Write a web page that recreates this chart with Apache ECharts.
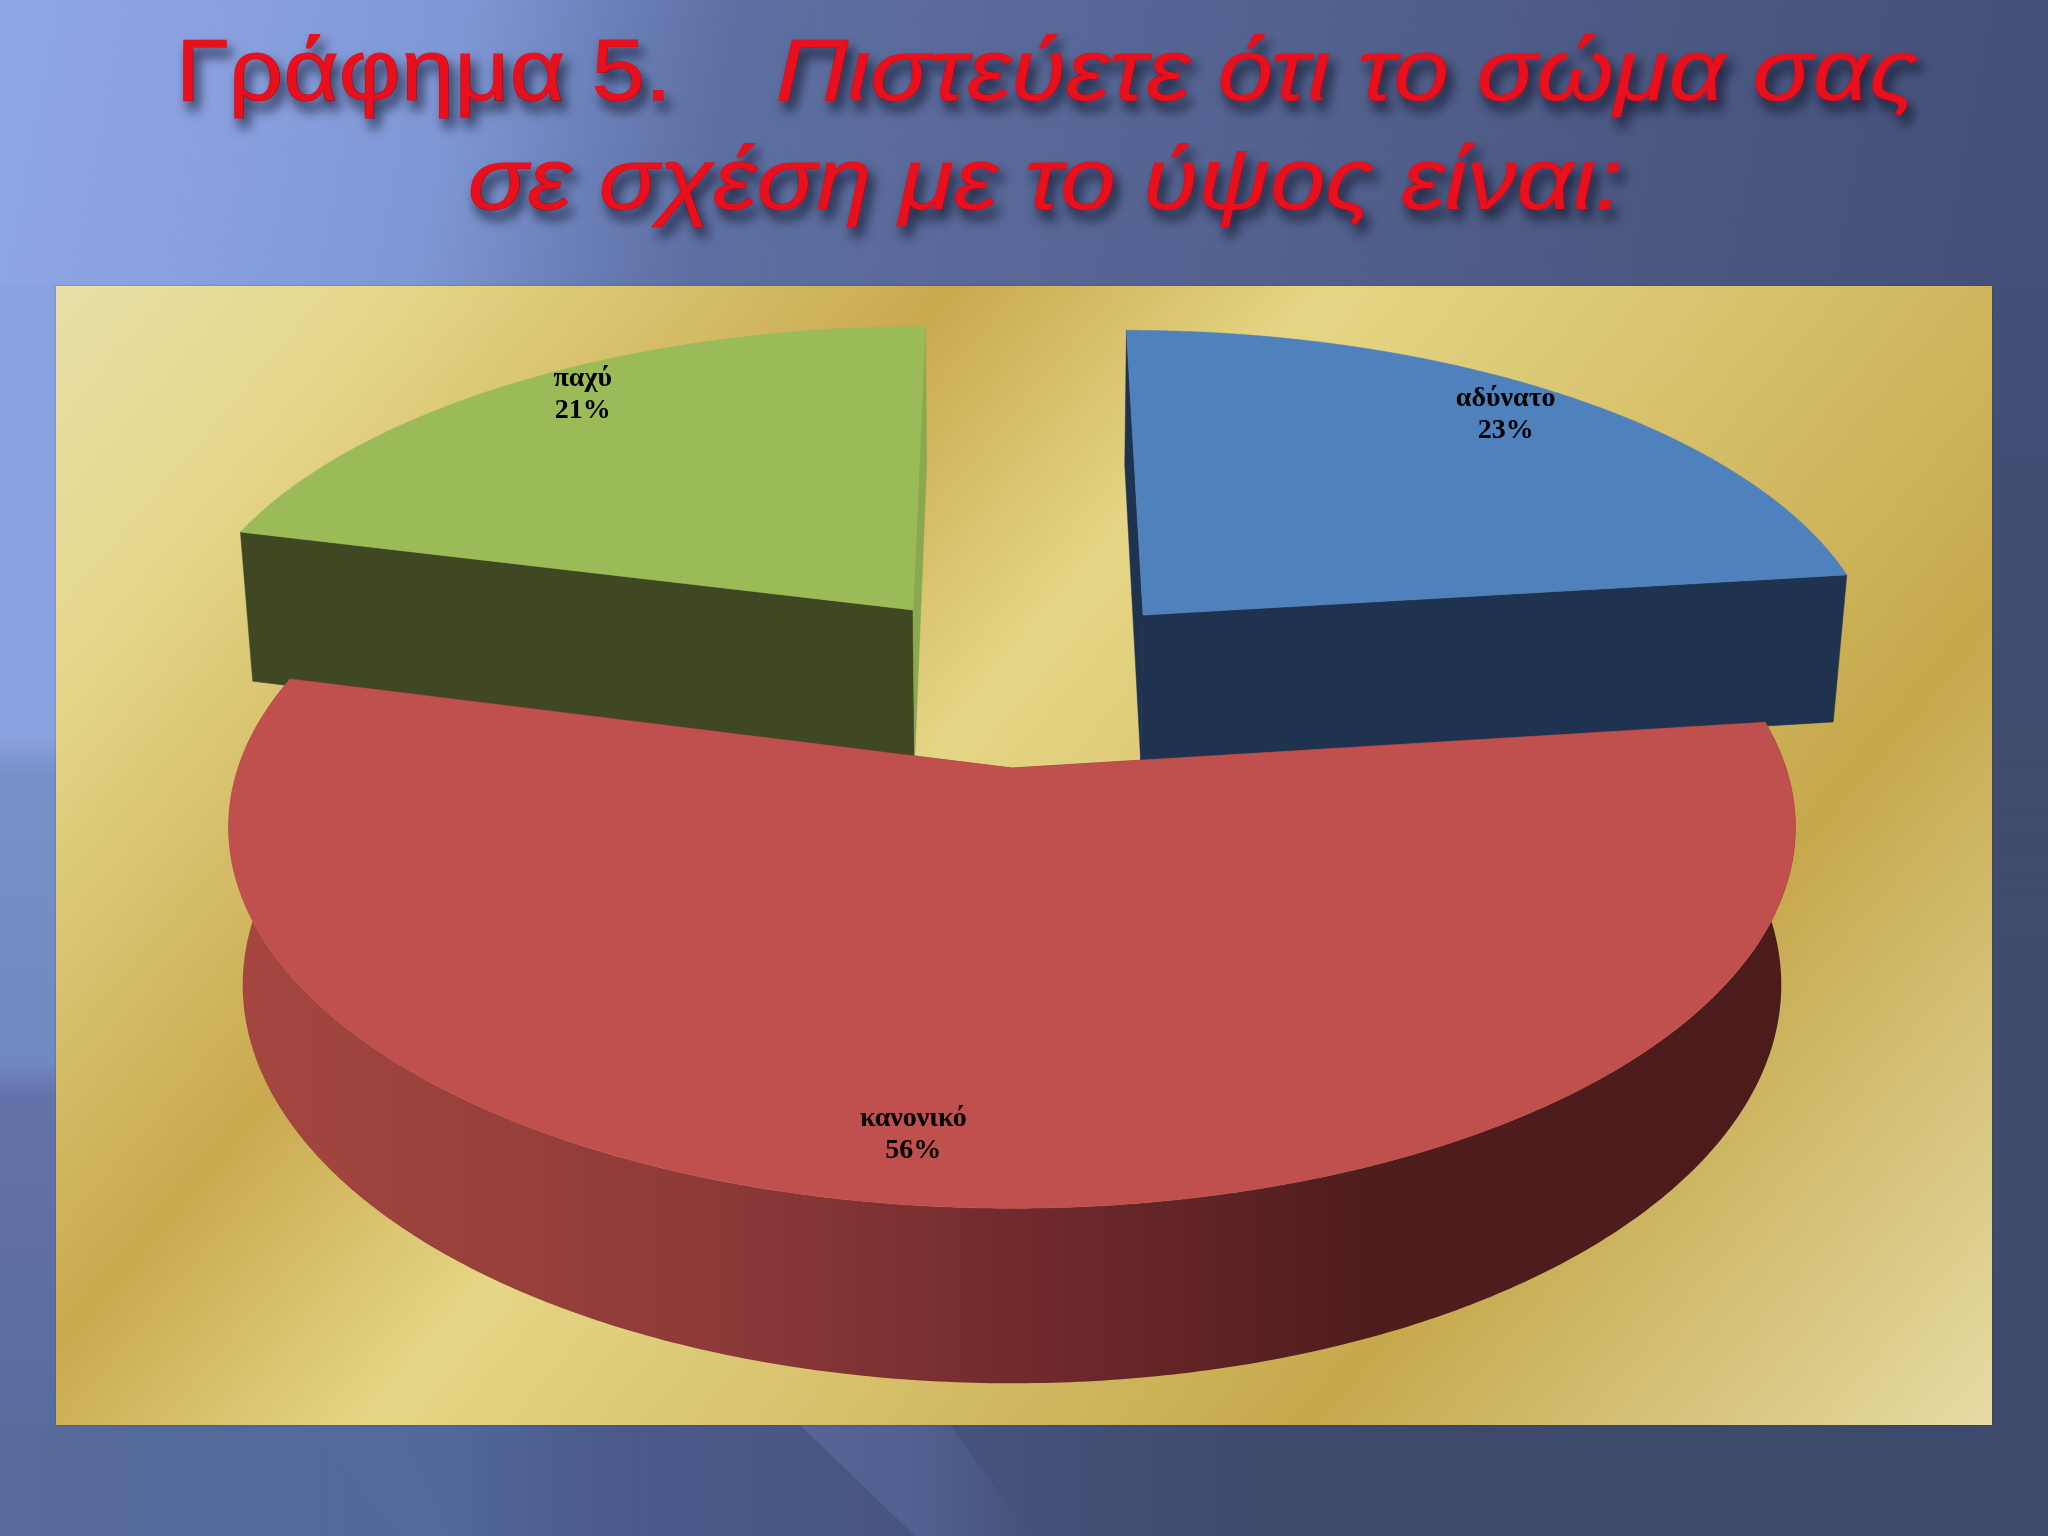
<!DOCTYPE html>
<html>
<head>
<meta charset="utf-8">
<style>html,body{margin:0;padding:0;background:#3e4a6c}#c{width:2048px;height:1536px}</style>
<script src="https://cdn.jsdelivr.net/npm/echarts@6/dist/echarts.min.js"></script>
</head>
<body>
<div id="c"></div>
<script>
// ---- data ----
var categories = ['αδύνατο', 'κανονικό', 'παχύ'];
var shares = [23, 56, 21];
var titleUpright = 'Γράφημα 5.';
var titleItalic1 = 'Πιστεύετε ότι το σώμα σας';
var titleItalic2 = 'σε σχέση με το ύψος είναι:';

// ---- look ----
var topColors = ['#4f81bd', '#c0504d', '#9bbb59'];
var startFaceColors = ['#1f3350', '#7a3030', '#3f4822'];
var endFaceColors = ['#1f3350', '#7a3030', '#8aa850'];
var paintOrder = [1, 3, 2];
var explodeX = [0.1808, 0, -0.137];
var explodeY = [0.439, 0, 0.4547];
var depthScale = [1.0, 1, 1.03];
var labelRadius = [0.887, 0.859, 0.905];
var labelAngleShift = [-1.6, 3.8, 2.7];

// perspective of the pie plane
var CX = 1012, CY = 768, SCALE_X = 774, SCALE_Y = 372, PERSP = 0.155, DEPTH = 159, DEPTH_W = 0.018;

function project(i, x, y, lower) {
  var w = 1 + PERSP * y + (lower ? DEPTH_W : 0);
  return [CX + SCALE_X * x / w, CY + (-SCALE_Y * y + (lower ? DEPTH * depthScale[i] : 0)) / w];
}
function rimPoint(i, deg, r, lower) {
  var a = deg * Math.PI / 180;
  return project(i, explodeX[i] + r * Math.sin(a), explodeY[i] + r * Math.cos(a), lower);
}
var total = shares.reduce(function (s, v) { return s + v; }, 0);

function renderSlice(params, api) {
  var i = params.dataIndex;
  var before = 0;
  for (var k = 0; k < i; k++) before += shares[k];
  var a0 = before / total * 360;
  var a1 = a0 + api.value(0) / total * 360;
  var upper = [], lower = [];
  for (var d = 0; d <= 360; d++) {
    var t = a0 + (a1 - a0) * d / 360;
    upper.push(rimPoint(i, t, 1, false));
    lower.push(rimPoint(i, t, 1, true));
  }
  var top = [rimPoint(i, a0, 0, false)].concat(upper);
  var z = paintOrder[i];
  function face(deg, color) {
    return { type: 'polygon', z2: z, shape: { points: [
      rimPoint(i, deg, 0, false), rimPoint(i, deg, 1, false),
      rimPoint(i, deg, 1, true), rimPoint(i, deg, 0, true)
    ] }, style: { fill: color, stroke: color, lineWidth: 0.5 } };
  }
  var children = [face(a0, startFaceColors[i]), face(a1, endFaceColors[i])];
  if (i === 1) {
    children.push({ type: 'polygon', z2: z, shape: { points: upper.concat(lower.slice().reverse()) },
      style: { fill: new echarts.graphic.LinearGradient(250, 0, 1790, 0, [
        { offset: 0, color: '#a4463f' },
        { offset: 0.3, color: '#8d3a38' },
        { offset: 0.5, color: '#722a2d' },
        { offset: 0.72, color: '#501d1e' },
        { offset: 1, color: '#4c1b1c' }
      ], true) } });
  }
  children.push({ type: 'polygon', z2: z, shape: { points: top }, style: { fill: topColors[i], stroke: topColors[i], lineWidth: 0.5 } });
  var mid = (a0 + a1) / 2 + labelAngleShift[i];
  var lp = rimPoint(i, mid, labelRadius[i], false);
  children.push({ type: 'text', z2: 20, x: lp[0], y: lp[1] + 2, style: {
    text: categories[i] + '\n' + api.value(0) + '%',
    font: 'bold 28px "Liberation Serif"', lineHeight: 32,
    fill: '#000', align: 'center', verticalAlign: 'middle' } });
  return { type: 'group', children: children };
}

function titleText(text, x, y, italic, sx) {
  return { type: 'text', x: x, y: y, scaleX: sx, z: 5, style: {
    text: text, fill: '#e8101c', stroke: '#e8101c', lineWidth: 1.2, verticalAlign: 'top', align: 'left',
    textShadowColor: 'rgba(8,12,30,0.7)', textShadowBlur: 12, textShadowOffsetX: 5, textShadowOffsetY: 9,
    shadowColor: 'rgba(8,12,30,0.7)', shadowBlur: 12, shadowOffsetX: 5, shadowOffsetY: 9,
    font: (italic ? 'italic ' : '') + '88px "Liberation Sans"' } };
}

var chart = echarts.init(document.getElementById('c'), null, { renderer: 'canvas', width: 2048, height: 1536 });
chart.setOption({
  animation: false,
  backgroundColor: '#3e4a6c',
  graphic: [
    // slide background
    { type: 'rect', z: 0, shape: { x: 0, y: 0, width: 2048, height: 290 }, style: { fill: new echarts.graphic.LinearGradient(0, 0, 2048, 390, [
      { offset: 0, color: '#8fa6e8' }, { offset: 0.1, color: '#8aa0e0' }, { offset: 0.22, color: '#7f97d4' },
      { offset: 0.29, color: '#6a80b8' }, { offset: 0.35, color: '#5d6fa2' }, { offset: 0.6, color: '#53628f' },
      { offset: 0.8, color: '#4a5781' }, { offset: 1, color: '#434f78' }
    ], true) } },
    { type: 'rect', z: 0, shape: { x: 0, y: 286, width: 56, height: 1250 }, style: { fill: new echarts.graphic.LinearGradient(0, 286, 0, 1536, [
      { offset: 0, color: '#8ba2e2' }, { offset: 0.36, color: '#8ba2e0' }, { offset: 0.39, color: '#7890c8' },
      { offset: 0.6, color: '#6f8abf' }, { offset: 0.62, color: '#7088bf' }, { offset: 0.65, color: '#6472aa' },
      { offset: 1, color: '#566a9a' }
    ], true) } },
    { type: 'rect', z: 0, shape: { x: 1992, y: 286, width: 56, height: 1139 }, style: { fill: new echarts.graphic.LinearGradient(0, 286, 0, 1425, [
      { offset: 0, color: '#424f78' }, { offset: 0.4, color: '#3f4c6e' }, { offset: 1, color: '#3e4a6c' }
    ], true) } },
    { type: 'rect', z: 0, shape: { x: 0, y: 1425, width: 2048, height: 111 }, style: { fill: new echarts.graphic.LinearGradient(0, 0, 2048, 0, [
      { offset: 0, color: '#566a9b' }, { offset: 0.22, color: '#50689a' }, { offset: 0.3, color: '#4b5a8a' },
      { offset: 0.46, color: '#47547e' }, { offset: 0.62, color: '#3e4a6c' }, { offset: 1, color: '#3e4a6c' }
    ], true) } },
    { type: 'polygon', z: 0, shape: { points: [[310, 1425], [400, 1425], [450, 1536], [400, 1536]] }, style: { fill: 'rgba(96,112,165,0.2)' } },
    { type: 'polygon', z: 0, shape: { points: [[800, 1425], [950, 1425], [1030, 1536], [915, 1536]] }, style: { fill: new echarts.graphic.LinearGradient(800, 0, 1030, 0, [
      { offset: 0, color: 'rgba(96,112,165,0.55)' }, { offset: 0.55, color: 'rgba(96,112,165,0.4)' }, { offset: 1, color: 'rgba(96,112,165,0)' }
    ], true) } },
    // gold panel
    { type: 'rect', z: 1, shape: { x: 56, y: 286, width: 1936, height: 1139 }, style: {
      shadowBlur: 2, shadowColor: 'rgba(20,20,30,0.3)',
      fill: new echarts.graphic.LinearGradient(174, 148, 1863, 1577, [
        { offset: 0, color: '#e9dfa8' }, { offset: 0.121, color: '#e4d688' }, { offset: 0.309, color: '#c9a94e' },
        { offset: 0.44, color: '#e5d685' }, { offset: 0.6, color: '#d6c06a' }, { offset: 0.764, color: '#c6a84c' },
        { offset: 0.9, color: '#d8c67f' }, { offset: 1, color: '#e6dba4' }
      ], true) } },
    titleText(titleUpright, 176, 32, false, 1.09),
    titleText(titleItalic1, 776, 32, true, 1.13),
    titleText(titleItalic2, 468, 141, true, 1.128)
  ],
  series: [{
    type: 'custom',
    coordinateSystem: 'none',
    renderItem: renderSlice,
    z: 3,
    data: shares.map(function (v, i) { return { name: categories[i], value: [v] }; })
  }]
});
</script>
</body>
</html>
